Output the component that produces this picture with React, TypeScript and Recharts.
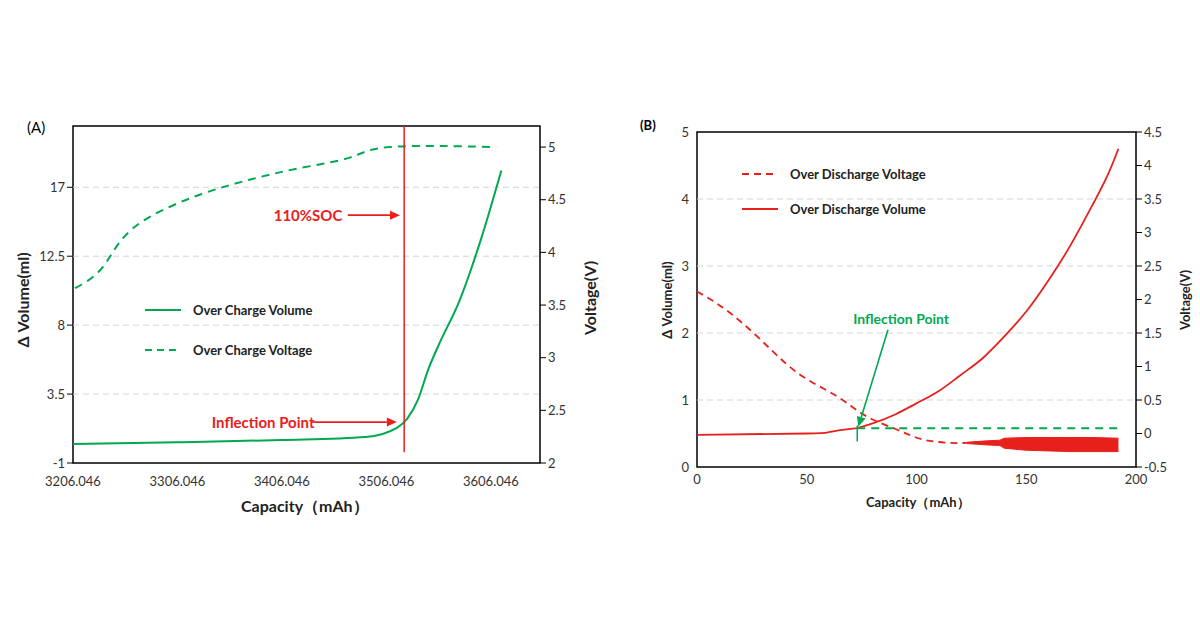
import React from 'react';
import {
  LineChart, ComposedChart, Line, Area, XAxis, YAxis, ReferenceLine, ReferenceArea, ReferenceDot,
} from 'recharts';

// ---- Panel A: over charge ----
const capTicksA = [3206.046, 3306.046, 3406.046, 3506.046, 3606.046];
const volTicksA = [-1, 3.5, 8, 12.5, 17];
const voltTicksA = [2, 2.5, 3, 3.5, 4, 4.5, 5];
const chargeVolumeCap = [3206, 3306, 3406, 3486, 3516, 3526, 3536, 3546, 3556, 3576, 3596, 3616];
const chargeVolume = [0.24, 0.35, 0.5, 0.7, 1.3, 1.9, 3.1, 5.1, 6.7, 9.6, 13.5, 18.1];
const chargeVoltageCap = [3208, 3232, 3251, 3280, 3328, 3375, 3423, 3471, 3509, 3611];
const chargeVoltage = [3.66, 3.83, 4.1, 4.34, 4.55, 4.69, 4.8, 4.9, 5.0, 5.0];

// ---- Panel B: over discharge ----
const capTicksB = [0, 50, 100, 150, 200];
const volTicksB = [0, 1, 2, 3, 4, 5];
const voltTicksB = [-0.5, 0, 0.5, 1, 1.5, 2, 2.5, 3, 3.5, 4, 4.5];
const dischargeVolumeCap = [0, 50, 60, 70, 73, 80, 90, 100, 110, 120, 130, 140, 150, 160, 170, 180, 187, 192];
const dischargeVolume = [0.48, 0.5, 0.52, 0.57, 0.58, 0.65, 0.78, 0.95, 1.13, 1.37, 1.62, 1.95, 2.32, 2.78, 3.3, 3.9, 4.35, 4.75];
const dischargeVoltageCap = [0, 13, 29, 46, 63.5, 77, 91, 103, 116, 123];
const dischargeVoltage = [2.12, 1.85, 1.4, 0.9, 0.56, 0.26, 0.06, -0.09, -0.14, -0.14];
const noiseCap = [123, 132, 138, 140, 150, 160, 170, 180, 192];
const noiseLow = [-0.15, -0.17, -0.18, -0.22, -0.25, -0.26, -0.27, -0.27, -0.27];
const noiseHigh = [-0.13, -0.11, -0.1, -0.07, -0.06, -0.06, -0.06, -0.06, -0.07];

const GREEN = '#00a850';
const RED = '#e8201c';
const FONT = 'Lato, "Open Sans", sans-serif';

const zip = (xs: number[], ys: number[]) => xs.map((x, i) => ({ x, y: ys[i] }));

const Arrow = (color: string) => (p: any) => {
  const { x1, y1, x2, y2 } = p;
  const a = Math.atan2(y2 - y1, x2 - x1);
  const L = 10, W = 4.5;
  const bx = x2 - L * Math.cos(a), by = y2 - L * Math.sin(a);
  const pts = `${x2},${y2} ${bx + W * Math.sin(a)},${by - W * Math.cos(a)} ${bx - W * Math.sin(a)},${by + W * Math.cos(a)}`;
  return (
    <g>
      <line x1={x1} y1={y1} x2={bx} y2={by} stroke={color} strokeWidth={1.6} />
      <polygon points={pts} fill={color} />
    </g>
  );
};

const Label = (text: string, color: string, size: number) => (p: any) => (
  <text x={p.cx} y={p.cy} textAnchor="middle" dominantBaseline="central" fill={color}
    fontSize={size} fontWeight={700} fontFamily={FONT}>{text}</text>
);

const tick = { fontSize: 13, fill: '#333', fontFamily: FONT };

const LegendRow = ({ color, dashed, text, top, left, size }: any) => (
  <div style={{ position: 'absolute', top, left, display: 'flex', alignItems: 'center', fontFamily: FONT, fontWeight: 700, fontSize: size, color: '#222' }}>
    <svg width={40} height={6} style={{ marginRight: 8 }}>
      <line x1={0} y1={3} x2={36} y2={3} stroke={color} strokeWidth={2} strokeDasharray={dashed ? '7 5' : undefined} />
    </svg>
    {text}
  </div>
);

export default function App() {
  const volA = zip(chargeVolumeCap, chargeVolume);
  const voltA = zip(chargeVoltageCap, chargeVoltage);
  const volB = zip(dischargeVolumeCap, dischargeVolume);
  const voltB = zip(dischargeVoltageCap, dischargeVoltage);
  const band = noiseCap.map((x, i) => ({ x, band: [noiseLow[i], noiseHigh[i]] }));

  return (
    <div style={{ position: 'absolute', left: 0, top: 0, width: 1200, height: 630, background: '#fff', fontFamily: FONT }}>
      {/* Panel A */}
      <div style={{ position: 'absolute', left: 0, top: 0 }}>
        <LineChart width={600} height={630} margin={{ top: 126, right: 20, bottom: 137, left: 23 }}>
          <XAxis type="number" dataKey="x" domain={[3206.046, 3653]} ticks={capTicksA} allowDataOverflow
            tick={{ ...tick, dy: 6 }} tickFormatter={(v) => v.toFixed(3)} axisLine={false} tickLine={false} height={30} />
          <YAxis yAxisId="l" domain={[-1, 21]} ticks={volTicksA} tick={tick} width={50} axisLine={false} tickLine={{ stroke: '#000' }} />
          <YAxis yAxisId="r" orientation="right" domain={[2, 5.2]} ticks={voltTicksA} tick={tick} width={40} axisLine={false} tickLine={{ stroke: '#000' }} />
          {volTicksA.slice(1).map((v) => (
            <ReferenceLine key={v} yAxisId="l" y={v} stroke="#d4d4d4" strokeDasharray="6 4" />
          ))}
          <ReferenceArea yAxisId="l" x1={3206.046} x2={3653} y1={-1} y2={21} fill="none" stroke="#000" strokeWidth={1.5} />
          <Line yAxisId="r" data={voltA} dataKey="y" type="natural" stroke={GREEN} strokeWidth={2} strokeDasharray="8 6" dot={false} isAnimationActive={false} />
          <Line yAxisId="l" data={volA} dataKey="y" type="monotone" stroke={GREEN} strokeWidth={2} dot={false} isAnimationActive={false} />
          <ReferenceLine yAxisId="l" segment={[{ x: 3523, y: -0.3 }, { x: 3523, y: 21 }]} stroke={RED} strokeWidth={1.5} />
          <ReferenceLine yAxisId="l" segment={[{ x: 3469, y: 15.18 }, { x: 3519, y: 15.18 }]} shape={Arrow(RED)} />
          <ReferenceLine yAxisId="l" segment={[{ x: 3435, y: 1.67 }, { x: 3516, y: 1.67 }]} shape={Arrow(RED)} />
          <ReferenceDot yAxisId="l" x={3431} y={15.18} r={0} shape={Label('110%SOC', RED, 15)} />
          <ReferenceDot yAxisId="l" x={3388} y={1.67} r={0} shape={Label('Inflection Point', RED, 15)} />
        </LineChart>
        <div style={{ position: 'absolute', left: 27, top: 118, fontSize: 15 }}>(A)</div>
        <div style={{ position: 'absolute', left: 241, top: 496, fontSize: 16, fontWeight: 700, color: '#222' }}>Capacity（mAh）</div>
        <div style={{ position: 'absolute', left: 22, top: 300, transform: 'translate(-50%,-50%) rotate(-90deg)', whiteSpace: 'nowrap', fontSize: 16, fontWeight: 700, color: '#222' }}>Δ Volume(ml)</div>
        <div style={{ position: 'absolute', left: 589, top: 298, transform: 'translate(-50%,-50%) rotate(-90deg)', whiteSpace: 'nowrap', fontSize: 16, fontWeight: 700, color: '#222' }}>Voltage(V)</div>
        <LegendRow color={GREEN} text="Over Charge Volume" top={302} left={145} size={13} />
        <LegendRow color={GREEN} dashed text="Over Charge Voltage" top={342} left={145} size={13} />
      </div>

      {/* Panel B */}
      <div style={{ position: 'absolute', left: 600, top: 0 }}>
        <ComposedChart width={600} height={630} margin={{ top: 132, right: 20, bottom: 133, left: 47 }}>
          <XAxis type="number" dataKey="x" domain={[0, 200]} ticks={capTicksB} tick={tick} axisLine={false} tickLine={false} height={30} />
          <YAxis yAxisId="l" domain={[0, 5]} ticks={volTicksB} tick={tick} width={50} axisLine={false} tickLine={false} />
          <YAxis yAxisId="r" orientation="right" domain={[-0.5, 4.5]} ticks={voltTicksB} tick={tick} width={44} axisLine={false} tickLine={{ stroke: '#000' }} />
          {volTicksB.slice(1, -1).map((v) => (
            <ReferenceLine key={v} yAxisId="l" y={v} stroke="#d4d4d4" strokeDasharray="6 4" />
          ))}
          <ReferenceArea yAxisId="l" x1={0} x2={200} y1={0} y2={5} fill="none" stroke="#000" strokeWidth={1.5} />
          <Area yAxisId="r" data={band} dataKey="band" type="linear" stroke={RED} fill={RED} fillOpacity={1} isAnimationActive={false} />
          <Line yAxisId="r" data={voltB} dataKey="y" type="natural" stroke={RED} strokeWidth={1.8} strokeDasharray="7 5" dot={false} isAnimationActive={false} />
          <Line yAxisId="l" data={volB} dataKey="y" type="natural" stroke={RED} strokeWidth={1.8} dot={false} isAnimationActive={false} />
          <ReferenceLine yAxisId="l" segment={[{ x: 73, y: 0.58 }, { x: 192, y: 0.58 }]} stroke={GREEN} strokeWidth={2} strokeDasharray="8 6" />
          <ReferenceLine yAxisId="l" segment={[{ x: 73, y: 0.38 }, { x: 73, y: 0.62 }]} stroke={GREEN} strokeWidth={1.5} />
          <ReferenceLine yAxisId="l" segment={[{ x: 87, y: 2.05 }, { x: 73.5, y: 0.6 }]} shape={Arrow(GREEN)} />
          <ReferenceDot yAxisId="l" x={93} y={2.22} r={0} shape={Label('Inflection Point', GREEN, 14)} />
        </ComposedChart>
        <div style={{ position: 'absolute', left: 40, top: 117, fontSize: 13, fontWeight: 700 }}>(B)</div>
        <div style={{ position: 'absolute', left: 266, top: 494, fontSize: 13, fontWeight: 700, color: '#222' }}>Capacity（mAh）</div>
        <div style={{ position: 'absolute', left: 67, top: 300, transform: 'translate(-50%,-50%) rotate(-90deg)', whiteSpace: 'nowrap', fontSize: 13, fontWeight: 700, color: '#222' }}>Δ Volume(ml)</div>
        <div style={{ position: 'absolute', left: 585, top: 300, transform: 'translate(-50%,-50%) rotate(-90deg)', whiteSpace: 'nowrap', fontSize: 13, fontWeight: 700, color: '#222' }}>Voltage(V)</div>
        <LegendRow color={RED} dashed text="Over Discharge Voltage" top={166} left={142} size={13} />
        <LegendRow color={RED} text="Over Discharge Volume" top={201} left={142} size={13} />
      </div>
    </div>
  );
}
